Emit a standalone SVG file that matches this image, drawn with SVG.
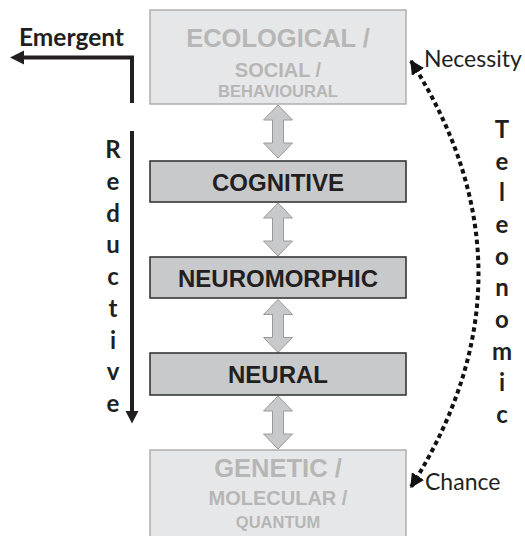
<svg xmlns="http://www.w3.org/2000/svg" xmlns:xlink="http://www.w3.org/1999/xlink" width="525" height="536" viewBox="0 0 525 536">
<style>
.faint{fill:#e6e7e8;stroke:#aeaeae;stroke-width:1.5}
.solid{fill:#c8c9cb;stroke:#2b2b2b;stroke-width:1.5}
.ft{font-family:"Liberation Sans",Arial,sans-serif;font-weight:bold;fill:#b6b6b6;text-anchor:middle}
.st{font-family:"Liberation Sans",Arial,sans-serif;font-weight:bold;fill:#231f20;text-anchor:middle;font-size:24px}
.cal{font-family:Lato,"Open Sans",sans-serif;fill:#231f20}
.lb{font-family:Lato,"Open Sans",sans-serif;font-weight:bold;fill:#231f20;font-size:24px;text-anchor:middle}
.dbl{fill:#c8c9cb;stroke:#9a9a9a;stroke-width:1}
.blk{fill:none;stroke:#231f20;stroke-width:4}
.dot{fill:none;stroke:#111;stroke-width:4;stroke-dasharray:4.5 3.5}
</style>
<defs>
<path id="dblarrow" class="dbl" d="M0,0 L14.5,15 L5.5,15 L5.5,38 L14.5,38 L0,53 L-14.5,38 L-5.5,38 L-5.5,15 L-14.5,15 Z"/>
<marker id="tri" viewBox="0 0 10 10" refX="9" refY="5" markerWidth="3.6" markerHeight="3.6" orient="auto-start-reverse" markerUnits="strokeWidth">
<path d="M0,0 L10,5 L0,10 Z" fill="#111"/>
</marker>
</defs>

<g id="connectors">
<use xlink:href="#dblarrow" href="#dblarrow" x="278" y="105"/>
<use xlink:href="#dblarrow" href="#dblarrow" x="278" y="203"/>
<use xlink:href="#dblarrow" href="#dblarrow" x="278" y="299.5"/>
<use xlink:href="#dblarrow" href="#dblarrow" x="278" y="396"/>
<path class="blk" d="M132,103 L132,57.5 L22,57.5"/>
<polygon points="10,57.5 24,50.5 24,64.5" fill="#231f20"/>
<path class="blk" d="M132,131 L132,412"/>
<polygon points="132,423.5 125.5,411 138.5,411" fill="#231f20"/>
<path class="dot" d="M411,61 Q546,274 411,487" marker-start="url(#tri)" marker-end="url(#tri)"/>
</g>

<g id="ecological">
<rect class="faint" x="150" y="10" width="256" height="94"/>
<text class="ft" x="278" y="47" font-size="25.5">ECOLOGICAL /</text>
<text class="ft" x="278" y="77" font-size="20">SOCIAL /</text>
<text class="ft" x="278" y="97" font-size="16.5">BEHAVIOURAL</text>
</g>

<g id="cognitive">
<rect class="solid" x="150" y="161" width="256" height="41"/>
<text class="st" x="278" y="190.5">COGNITIVE</text>
</g>

<g id="neuromorphic">
<rect class="solid" x="150" y="257" width="256" height="41"/>
<text class="st" x="278" y="286.5">NEUROMORPHIC</text>
</g>

<g id="neural">
<rect class="solid" x="150" y="353" width="256" height="42"/>
<text class="st" x="278" y="383">NEURAL</text>
</g>

<g id="genetic">
<rect class="faint" x="150" y="450" width="256" height="96"/>
<text class="ft" x="278" y="477" font-size="25.5">GENETIC /</text>
<text class="ft" x="278" y="505" font-size="20">MOLECULAR /</text>
<text class="ft" x="278" y="528" font-size="16.5">QUANTUM</text>
</g>

<g id="emergent">
<text class="cal" x="19" y="46" font-size="24.5" font-weight="bold">Emergent</text>
</g>

<g id="reductive">
<text class="lb" x="113" y="158">R</text>
<text class="lb" x="113" y="190">e</text>
<text class="lb" x="113" y="221.5">d</text>
<text class="lb" x="113" y="253">u</text>
<text class="lb" x="113" y="285">c</text>
<text class="lb" x="113" y="317">t</text>
<text class="lb" x="113" y="348.5">i</text>
<text class="lb" x="113" y="380">v</text>
<text class="lb" x="113" y="412">e</text>
</g>

<g id="teleonomic">
<text class="lb" x="502" y="138">T</text>
<text class="lb" x="502" y="170">e</text>
<text class="lb" x="502" y="201">l</text>
<text class="lb" x="502" y="233">e</text>
<text class="lb" x="502" y="265">o</text>
<text class="lb" x="502" y="296">n</text>
<text class="lb" x="502" y="328">o</text>
<text class="lb" x="502" y="360">m</text>
<text class="lb" x="502" y="391">i</text>
<text class="lb" x="502" y="423">c</text>
</g>

<g id="necessity">
<text class="cal" x="424" y="67" font-size="23">Necessity</text>
</g>

<g id="chance">
<text class="cal" x="425" y="490" font-size="23">Chance</text>
</g>
</svg>
